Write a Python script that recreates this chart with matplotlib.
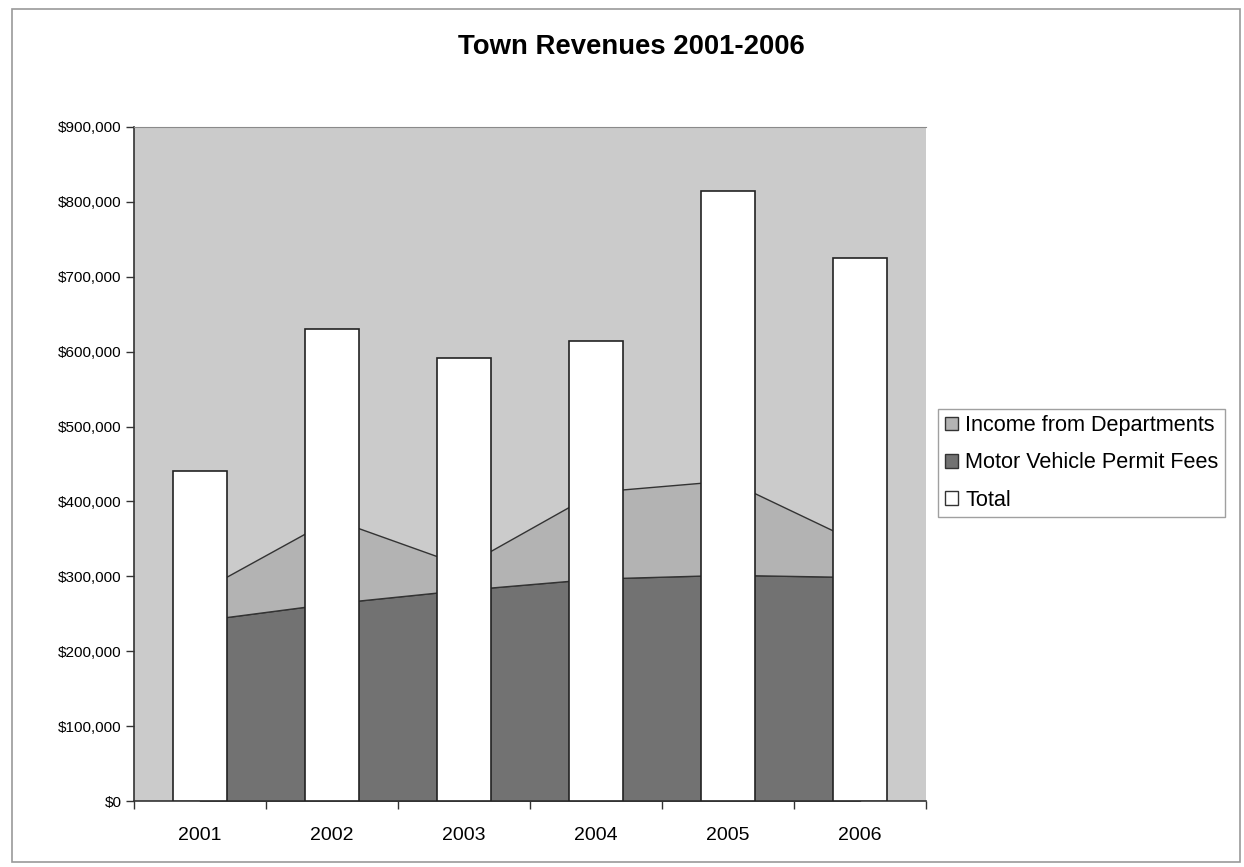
import matplotlib.pyplot as plt
import numpy as np
from matplotlib.patches import Patch, Rectangle
from matplotlib.ticker import FuncFormatter, MultipleLocator, FixedLocator

# valores (em dolares)
anos = ["2001", "2002", "2003", "2004", "2005", "2006"]
taxas_veiculos = [241000, 264000, 282000, 297000, 302000, 299000]
receita_departamentos = [39000, 113000, 32000, 116000, 126000, 45000]
total = [440000, 630000, 591000, 614000, 814000, 725000]

cor_fundo = "#cbcbcb"
cor_clara = "#b3b3b3"
cor_escura = "#727272"

plt.rcParams["font.family"] = ["Liberation Sans", "DejaVu Sans"]

fig = plt.figure(figsize=(12.44, 8.67), dpi=100)
ax = fig.add_axes([134 / 1244, 1 - 801 / 867, (926 - 134) / 1244, (801 - 127) / 867])
ax.set_facecolor(cor_fundo)

x = np.arange(len(anos))

ax.stackplot(x, taxas_veiculos, receita_departamentos,
             colors=[cor_escura, cor_clara], edgecolor="#333333", linewidth=1.0, zorder=1)
ax.bar(x, total, width=0.41, color="white", edgecolor="#222222", linewidth=1.2, zorder=3)

ax.set_xlim(-0.5, len(anos) - 0.5)
ax.set_ylim(0, 900000)
ax.yaxis.set_major_locator(MultipleLocator(100000))
ax.yaxis.set_major_formatter(FuncFormatter(lambda v, p: "${:,.0f}".format(v)))

ax.set_xticks(x)
ax.set_xticklabels(anos)
ax.xaxis.set_minor_locator(FixedLocator(np.arange(-0.5, len(anos), 1.0)))
ax.tick_params(axis="x", which="major", length=0, pad=19, labelsize=14)
ax.tick_params(axis="x", which="minor", length=6, width=1, direction="out", color="#333333")
ax.tick_params(axis="y", length=6, width=1, direction="out", pad=3, labelsize=11, color="#333333")

for lado in ["left", "bottom"]:
    ax.spines[lado].set_color("#333333")
    ax.spines[lado].set_linewidth(1.2)
ax.spines["top"].set_color("#8a8a8a")
ax.spines["right"].set_visible(False)

fig.text(631 / 1244, 1 - 47 / 867, "Town Revenues 2001-2006", ha="center", va="center",
         fontsize=19.8, fontweight="bold")

itens = [
    Patch(facecolor=cor_clara, edgecolor="#333333", label="Income from Departments"),
    Patch(facecolor=cor_escura, edgecolor="#333333", label="Motor Vehicle Permit Fees"),
    Patch(facecolor="white", edgecolor="#333333", label="Total"),
]
leg = fig.legend(handles=itens, loc="center left", bbox_to_anchor=(938 / 1244, 1 - 463 / 867),
                 fontsize=15.6, frameon=True, fancybox=False, handlelength=0.6, handleheight=0.6,
                 handletextpad=0.35, labelspacing=0.75, borderpad=0.3, borderaxespad=0)
leg.get_frame().set_edgecolor("#888888")
leg.get_frame().set_linewidth(1.0)

# moldura externa do grafico
fig.patches.append(Rectangle((12 / 1244, 1 - 862 / 867), (1240 - 12) / 1244, (862 - 9) / 867,
                             transform=fig.transFigure, fill=False, edgecolor="#999999", linewidth=1.2))

fig.savefig("out.png", dpi=100)
